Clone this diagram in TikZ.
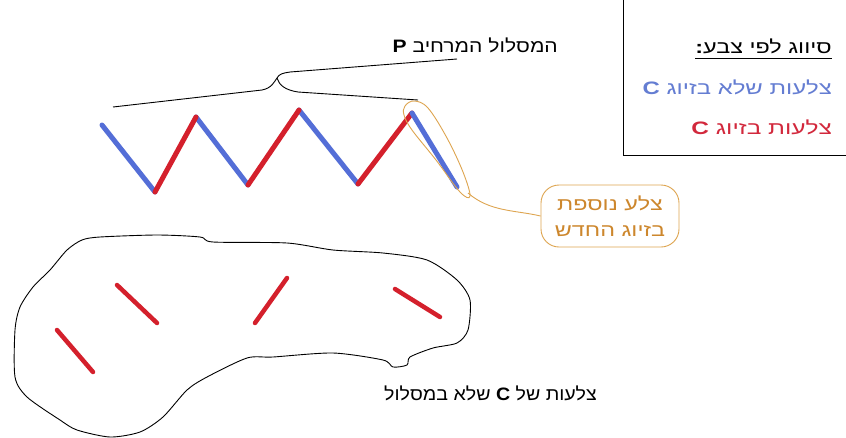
\documentclass[tikz,border=0pt]{standalone}
\usepackage{fontspec}
\usetikzlibrary{calc}
\setmainfont{Liberation Sans}
\newfontfamily\heb[Script=Hebrew]{Liberation Sans}
\TeXXeTstate=1
\definecolor{zblue}{RGB}{84,110,215}
\definecolor{zred}{RGB}{212,32,44}
\definecolor{zorange}{RGB}{222,165,80}
\definecolor{ztext}{RGB}{205,135,45}
\definecolor{lblue}{RGB}{100,125,210}
\definecolor{lred}{RGB}{210,40,60}
\begin{document}
\begin{tikzpicture}[x=1pt,y=-1pt,
  hebtxt/.style={font=\heb\fontsize{18}{21}\selectfont, inner sep=0pt},
  bedge/.style={zblue, line width=5pt, line cap=round},
  redge/.style={zred, line width=5pt, line cap=round},
  outline/.style={black, line width=0.9pt},
  loopline/.style={zorange, line width=0.9pt}]
\useasboundingbox (0,0) rectangle (846,437);
\fill[white] (0,0) rectangle (846,437);

% legend frame
\draw[line width=1pt] (623,0) -- (623,155) -- (846,155);
\node[hebtxt, anchor=east] (lt) at (832,46) {\scalebox{1.3}[1]{\beginR סיווג לפי צבע\textbf{:}\endR}};
\draw[line width=1.2pt] ($(lt.south west)+(0,5)$) -- ($(lt.south east)+(0,5)$);
\node[hebtxt, anchor=east, text=lblue] (lb) at (832,87) {\scalebox{1.33}[1]{\beginR צלעות שלא בזיוג \textbf{C}\endR}};
\node[hebtxt, anchor=east, text=lred] (lr) at (832,127) {\scalebox{1.36}[1]{\beginR צלעות בזיוג \textbf{C}\endR}};

% top label and bracket
\node[hebtxt, anchor=east] (top) at (558,45) {\scalebox{1.17}[1]{\beginR המסלול המרחיב \textbf{P}\endR}};
\draw[outline] (113,107) -- (262,90) .. controls (272,88) and (274,82) .. (277,78)
  .. controls (279,74) and (283,73) .. (290,72) -- (457,59);
\draw[outline] (277,78) .. controls (279,85) and (285,90) .. (298,92) -- (418,100);

% zigzag
\coordinate (z0) at (102,125);
\coordinate (z1) at (155,192);
\coordinate (z2) at (196,117);
\coordinate (z3) at (248,185);
\coordinate (z4) at (299,110);
\coordinate (z5) at (358,184);
\coordinate (z6) at (412,113);
\coordinate (z7) at (457,187);
\draw[bedge] (z0) -- (z1);
\draw[bedge] (z2) -- (z3);
\draw[bedge] (z4) -- (z5);
\draw[redge] (z1) -- (z2);
\draw[redge] (z3) -- (z4);
\draw[redge] (z5) -- (z6);
\draw[bedge] (z6) -- (z7);

% orange loop and bubble
\draw[loopline] plot[smooth cycle, tension=0.6] coordinates {(405,106) (414,101) (428,108) (447,138) (463,172) (470,196) (460,192) (436,160) (412,130) (404,115)};
\node[hebtxt, draw=zorange, line width=0.9pt, text=ztext, rounded corners=18pt,
  minimum width=138pt, minimum height=62pt, align=center] (bub) at (610,216)
  {\scalebox{1.3}[1]{\beginR צלע נוספת\endR}\\[5pt]\scalebox{1.3}[1]{\beginR בזיוג החדש\endR}};
\coordinate (tail) at (468,193);
\draw[loopline] (tail) .. controls (490,212) and (515,210) .. (bub.west);

% blob
\draw[outline] plot[smooth cycle, tension=0.45] coordinates {
 (82,240) (100,237) (157,235) (200,237) (213,242) (287,243) (333,250) (383,253)
 (427,260) (457,280) (470,300) (468,330) (457,343) (433,348) (410,357) (407,365)
 (393,367) (383,360) (333,353) (273,357) (247,358) (207,377) (187,390) (163,417)
 (140,432) (110,437) (77,430) (60,420) (27,397) (15,377) (15,330) (20,307)
 (33,287) (50,270) (67,250)};
\draw[redge, line width=4.5pt] (57,330) -- (93,372);
\draw[redge, line width=4.5pt] (117,285) -- (157,323);
\draw[redge, line width=4.5pt] (287,278) -- (255,323);
\draw[redge, line width=4.5pt] (395,289) -- (440,317);

\node[hebtxt, anchor=east] (bot) at (597,393) {\scalebox{1.09}[1]{\beginR צלעות של \textbf{C} שלא במסלול\endR}};
\end{tikzpicture}
\end{document}
